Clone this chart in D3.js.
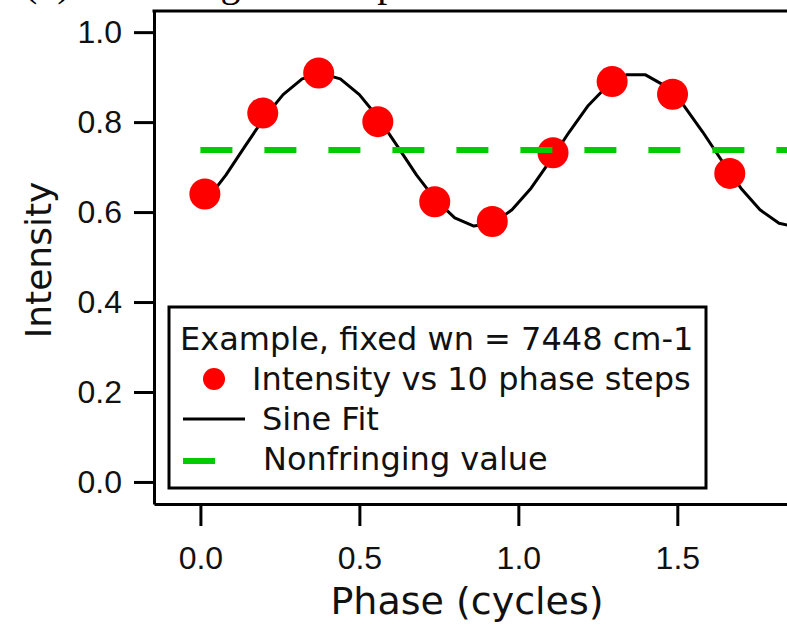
<!DOCTYPE html>
<html>
<head>
<meta charset="utf-8">
<script src="https://cdn.jsdelivr.net/npm/d3@7"></script>
<style>
  body { margin: 0; background: #fff; }
  svg { display: block; font-family: "DejaVu Sans", Verdana, sans-serif; }
  .axis path, .axis line { stroke: #000; stroke-width: 3; }
  .axis text { font-size: 32px; fill: #111; }
</style>
</head>
<body>
<div id="chart"></div>
<script>
"use strict";

// measured points: intensity at each of the 10 phase steps
const stepPhase = [0.014, 0.196, 0.372, 0.558, 0.737, 0.918, 1.109, 1.295, 1.485, 1.665];
const stepIntensity = [0.640, 0.820, 0.909, 0.801, 0.623, 0.579, 0.732, 0.890, 0.862, 0.686];

const fitPhase = [0.02, 0.08, 0.14, 0.20, 0.26, 0.32, 0.38, 0.44, 0.50, 0.56, 0.62, 0.68, 0.74, 0.80, 0.86, 0.92,
  0.98, 1.04, 1.10, 1.16, 1.22, 1.28, 1.34, 1.40, 1.46, 1.52, 1.58, 1.64, 1.70, 1.76, 1.82, 1.86];
const fitIntensity = [0.627, 0.682, 0.746, 0.809, 0.861, 0.896, 0.908, 0.896, 0.861, 0.809, 0.746, 0.682, 0.627, 0.587, 0.569, 0.575,
  0.605, 0.653, 0.714, 0.778, 0.837, 0.881, 0.905, 0.905, 0.881, 0.837, 0.778, 0.714, 0.653, 0.605, 0.575, 0.569];

// nonfringing level
const nonfringing = 0.738;
const nonfringingRange = [0, 1.9];

const xTicks = [0, 0.5, 1.0, 1.5];
const yTicks = [0, 0.2, 0.4, 0.6, 0.8, 1.0];

const legendTitle = "Example, fixed wn = 7448 cm-1";
const legendLabels = ["Intensity vs 10 phase steps", "Sine Fit", "Nonfringing value"];

const width = 787, height = 627;

// plot frame (right side runs off the picture)
let plot = {left: 154, right: 787, top: 11, bottom: 504};

let svg = d3.select("#chart")
  .append("svg")
  .attr("width", width)
  .attr("height", height);

// panel title, almost all of it above the top edge (as in the reference)
svg.append("text")
  .attr("x", 24)
  .attr("y", -4)
  .style("font-family", "'Liberation Serif', serif")
  .style("font-size", "40px")
  .text("(b) Interferogram sample");

let xScale = d3.scaleLinear().domain([-0.146, 1.845]).range([plot.left, plot.right]);
let yScale = d3.scaleLinear().domain([-0.049, 1.047]).range([plot.bottom, plot.top]);

// Axes
let xAxis = d3.axisBottom(xScale)
  .tickValues(xTicks)
  .tickFormat(d3.format(".1f"))
  .tickSize(22)
  .tickSizeOuter(0)
  .tickPadding(20);

let yAxis = d3.axisLeft(yScale)
  .tickValues(yTicks)
  .tickFormat(d3.format(".1f"))
  .tickSize(20)
  .tickSizeOuter(0)
  .tickPadding(12);

svg.append("g")
  .attr("class", "axis xAxis")
  .attr("transform", `translate(0,${plot.bottom})`)
  .call(xAxis);

svg.append("g")
  .attr("class", "axis yAxis")
  .attr("transform", `translate(${plot.left},0)`)
  .call(yAxis);

// top frame line
svg.append("line")
  .attr("x1", plot.left - 1.5).attr("x2", plot.right)
  .attr("y1", plot.top).attr("y2", plot.top)
  .attr("stroke", "#000")
  .attr("stroke-width", 3);

// Axis labels
svg.append("text")
  .attr("text-anchor", "middle")
  .attr("x", 467)
  .attr("y", 614)
  .style("font-size", "38px")
  .style("fill", "#111")
  .text("Phase (cycles)");

svg.append("text")
  .attr("text-anchor", "middle")
  .attr("transform", "translate(51,260)rotate(-90)")
  .style("font-size", "36px")
  .style("fill", "#111")
  .text("Intensity");

// sine fit line
let fitData = fitPhase.map((p, i) => ({phase: p, value: fitIntensity[i]}));
let line = d3.line().x(d => xScale(d.phase)).y(d => yScale(d.value));

svg.append("path")
  .datum(fitData)
  .attr("d", line)
  .attr("fill", "none")
  .attr("stroke", "#000")
  .attr("stroke-width", 3)
  .attr("stroke-linejoin", "round");

// measured points
let stepData = stepPhase.map((p, i) => ({phase: p, value: stepIntensity[i]}));
svg.selectAll(".point")
  .data(stepData)
  .enter()
  .append("circle")
  .attr("class", "point")
  .attr("cx", d => xScale(d.phase))
  .attr("cy", d => yScale(d.value))
  .attr("r", 15.5)
  .style("fill", "#ff0000");

// nonfringing dashed line (drawn on top)
svg.append("line")
  .attr("x1", xScale(nonfringingRange[0]))
  .attr("x2", xScale(nonfringingRange[1]))
  .attr("y1", yScale(nonfringing))
  .attr("y2", yScale(nonfringing))
  .attr("stroke", "#00cc00")
  .attr("stroke-width", 6)
  .attr("stroke-dasharray", "32,32");

// Legend
let legend = svg.append("g").attr("class", "legend");

legend.append("rect")
  .attr("x", 169).attr("y", 307)
  .attr("width", 537).attr("height", 181)
  .attr("fill", "#fff")
  .attr("stroke", "#000")
  .attr("stroke-width", 3);

legend.append("text")
  .attr("x", 180).attr("y", 350)
  .style("font-size", "32px")
  .style("fill", "#111")
  .text(legendTitle);

legend.append("circle")
  .attr("cx", 214).attr("cy", 379)
  .attr("r", 11)
  .style("fill", "#ff0000");

legend.append("line")
  .attr("x1", 183).attr("x2", 245)
  .attr("y1", 419).attr("y2", 419)
  .attr("stroke", "#000")
  .attr("stroke-width", 3);

legend.append("line")
  .attr("x1", 183).attr("x2", 215)
  .attr("y1", 461).attr("y2", 461)
  .attr("stroke", "#00cc00")
  .attr("stroke-width", 6);

let labelX = [252, 262, 263];
legend.selectAll(".legendLabel")
  .data(legendLabels)
  .enter()
  .append("text")
  .attr("class", "legendLabel")
  .attr("x", (d, i) => labelX[i])
  .attr("y", (d, i) => 390 + i * 40)
  .style("font-size", "32px")
  .style("fill", "#111")
  .text(d => d);
</script>
</body>
</html>
